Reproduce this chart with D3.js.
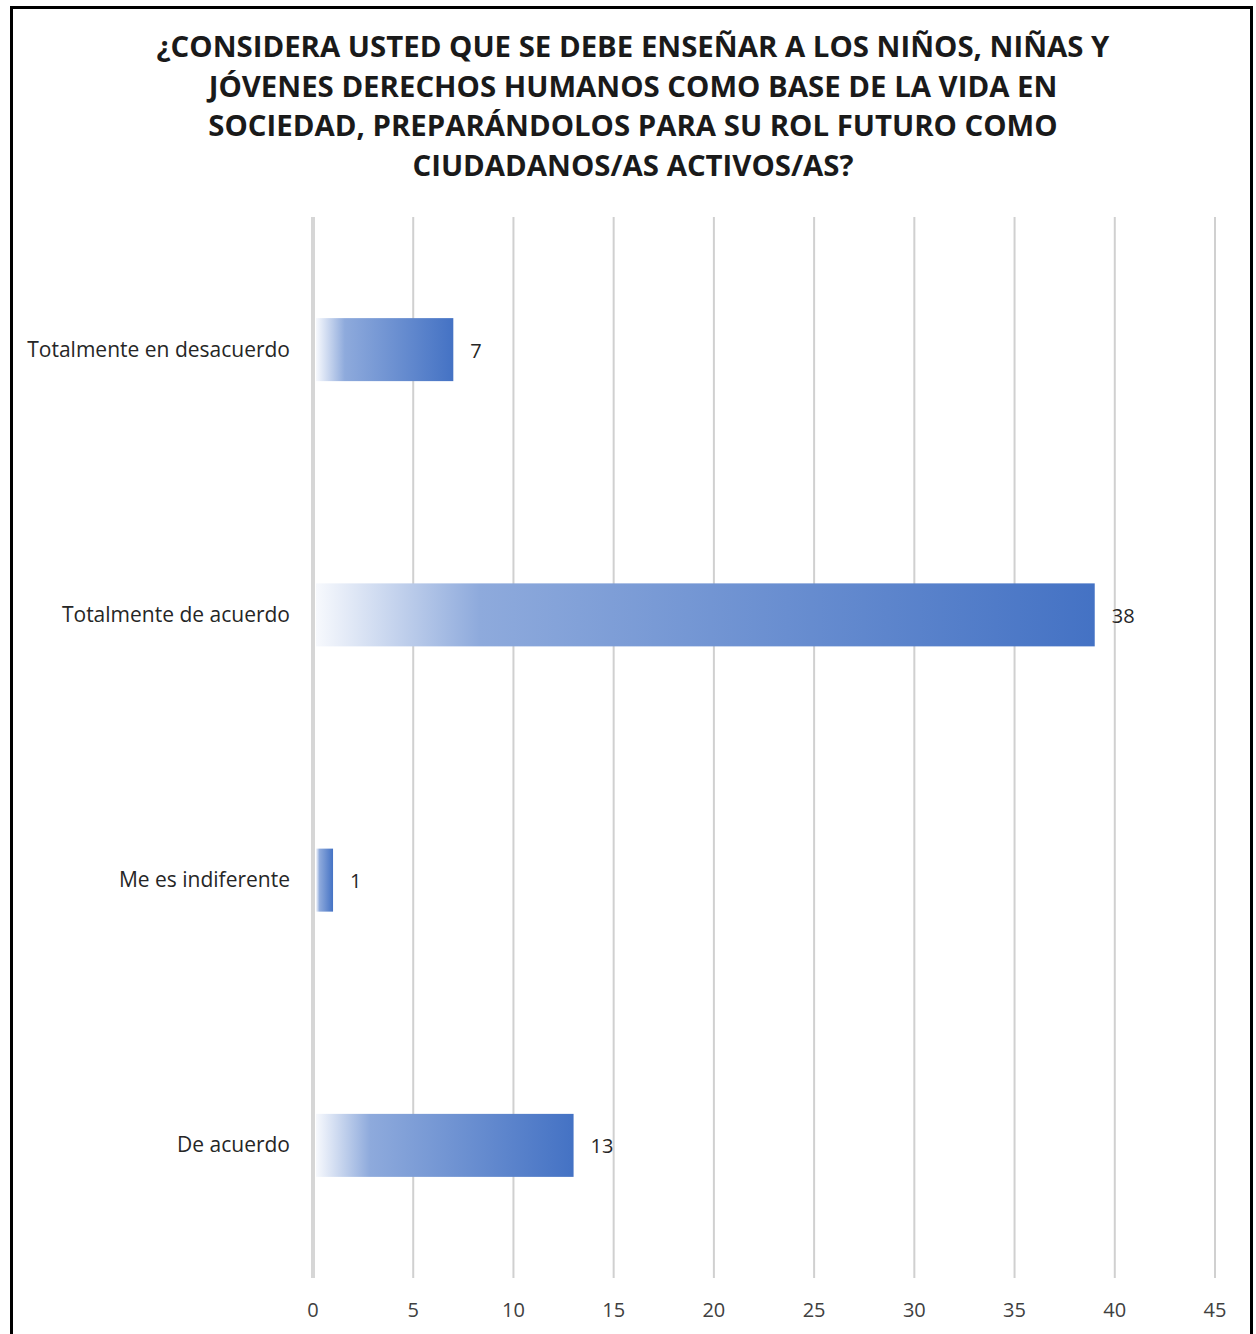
<!DOCTYPE html>
<html><head><meta charset="utf-8">
<script src="https://cdn.jsdelivr.net/npm/d3@7"></script>
<style>html,body{margin:0;padding:0;background:#fff;}</style>
</head><body>
<script>
const titleLines = [
  "¿CONSIDERA USTED QUE SE DEBE ENSEÑAR A LOS NIÑOS, NIÑAS Y",
  "JÓVENES DERECHOS HUMANOS COMO BASE DE LA VIDA EN",
  "SOCIEDAD, PREPARÁNDOLOS PARA SU ROL FUTURO COMO",
  "CIUDADANOS/AS ACTIVOS/AS?"
];
const categories = ["Totalmente en desacuerdo", "Totalmente de acuerdo", "Me es indiferente", "De acuerdo"];
const values = [7, 39, 1, 13];            // bar lengths as drawn
const valueLabels = ["7", "38", "1", "13"]; // data labels as printed
const xTicks = [0, 5, 10, 15, 20, 25, 30, 35, 40, 45];

const W = 1256, H = 1334;
const svg = d3.select("body").append("svg").attr("width", W).attr("height", H);

// frame
svg.append("rect").attr("x", 11.5).attr("y", 7.5).attr("width", 1240).attr("height", 1400)
  .attr("fill", "#fff").attr("stroke", "#000").attr("stroke-width", 3);

const font = "'Open Sans', 'Noto Sans', sans-serif";

// title
const tt = svg.append("g").selectAll("text").data(titleLines).join("text")
  .attr("x", 633).attr("y", (d, i) => 57 + i * 39.5)
  .attr("text-anchor", "middle").attr("font-family", font).attr("font-weight", 700)
  .attr("font-size", 28).attr("fill", "#1a1a1a").text(d => d);
const w0 = tt.nodes()[0].getComputedTextLength();
tt.attr("font-size", 28 * 953 / w0);

const x = d3.scaleLinear().domain([0, 45]).range([313, 1215]);
const y = d3.scaleBand().domain(categories).range([217, 1278]).paddingInner(0.76).paddingOuter(0.38);

// gradient
const defs = svg.append("defs");
const grad = defs.append("linearGradient").attr("id", "barGrad")
  .attr("x1", "0").attr("x2", "1").attr("y1", "0").attr("y2", "0");
grad.append("stop").attr("offset", "0").attr("stop-color", "#f7f9fd");
grad.append("stop").attr("offset", "0.21").attr("stop-color", "#8eaadc");
grad.append("stop").attr("offset", "1").attr("stop-color", "#4472c4");

// gridlines
svg.append("g").selectAll("line").data(xTicks.filter(d => d > 0)).join("line")
  .attr("x1", d => x(d)).attr("x2", d => x(d)).attr("y1", 217).attr("y2", 1278)
  .attr("stroke", "#d0d0d0").attr("stroke-width", 2);
svg.append("line").attr("x1", x(0)).attr("x2", x(0)).attr("y1", 217).attr("y2", 1278)
  .attr("stroke", "#d6d6d6").attr("stroke-width", 4);

// x tick labels
svg.append("g").selectAll("text").data(xTicks).join("text")
  .attr("x", d => x(d)).attr("y", 1317).attr("text-anchor", "middle")
  .attr("font-family", font).attr("font-size", 20).attr("fill", "#404040").text(d => d);

// bars
const bh = 63;
svg.append("g").selectAll("rect").data(values).join("rect")
  .attr("x", x(0) + 3).attr("y", (d, i) => y(categories[i]) + y.bandwidth() / 2 - bh / 2)
  .attr("width", d => x(d) - x(0) - 3).attr("height", bh)
  .attr("fill", "url(#barGrad)");

// data labels
svg.append("g").selectAll("text").data(values).join("text")
  .attr("x", d => x(d) + 17).attr("y", (d, i) => y(categories[i]) + y.bandwidth() / 2 + 8)
  .attr("font-family", font).attr("font-size", 20).attr("fill", "#262626")
  .text((d, i) => valueLabels[i]);

// category labels
svg.append("g").selectAll("text").data(categories).join("text")
  .attr("x", 290).attr("y", d => y(d) + y.bandwidth() / 2 + 7)
  .attr("text-anchor", "end").attr("font-family", font).attr("font-size", 21)
  .attr("fill", "#262626").text(d => d);
</script>
</body></html>
